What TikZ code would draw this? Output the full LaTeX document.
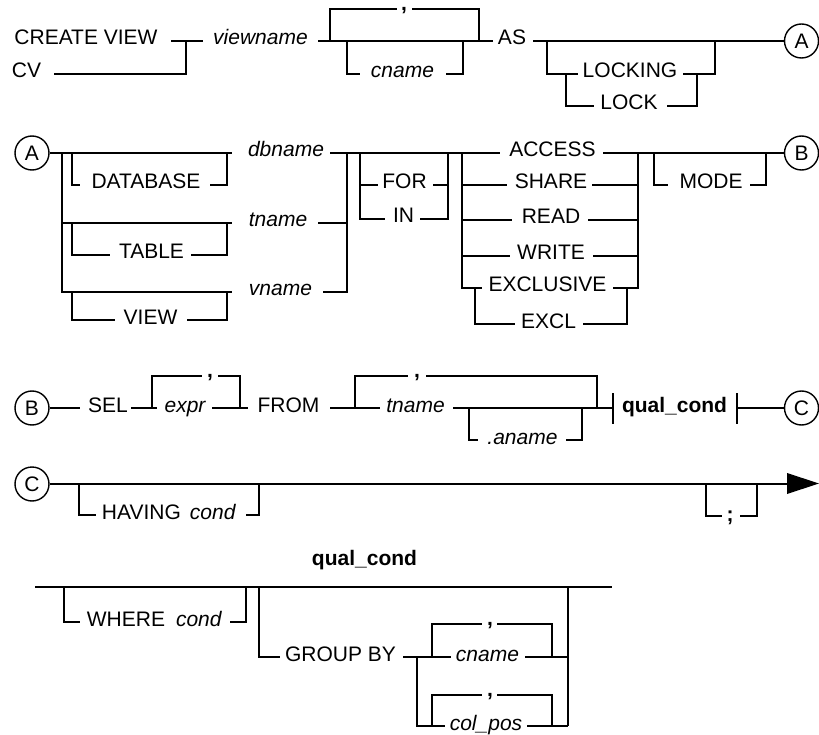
\documentclass[tikz,border=0pt]{standalone}
\usepackage{fontspec}
\setmainfont{Liberation Sans}
\newcommand{\rrsize}{\fontsize{21}{25}\selectfont}
\begin{document}
\begin{tikzpicture}[x=1pt,y=-1pt,line width=1.4pt,
  t/.style={anchor=base,inner sep=0pt,font=\rrsize},
  v/.style={anchor=base,inner sep=0pt,font=\rrsize\itshape},
  b/.style={anchor=base,inner sep=0pt,font=\rrsize\bfseries},
  conn/.style={draw,circle,minimum size=34pt,inner sep=0pt,font=\rrsize}]
\useasboundingbox (0,0) rectangle (819,735);

% ---------------- Row 1 ----------------
\node[t] (cv1) at (86,45) {CREATE VIEW};
\node[t] (cv2) at (26.5,78) {CV};
\draw (171,41) -- (203,41);
\draw (54,74) -| (186,41);
\node[v] (vn) at (260.5,45) {viewname};
\draw (318,41) -- (493,41);
\draw (330,41) |- (397,9);
\node[b] (cm1) at (404,11) {,};
\draw (412,9) -| (479,41);
\draw (347,41) |- (360,74);
\node[v] (cn1) at (402.5,78) {cname};
\draw (446,74) -| (463,41);
\node[t] (as) at (512,45) {AS};
\node[conn] (ca1) at (801.5,41) {A};
\draw (533,41) -- (ca1.west);
\draw (547,41) |- (578,74);
\node[t] (lk1) at (630,78) {LOCKING};
\draw (683,74) -| (715,41);
\draw (566,74) |- (594,106);
\node[t] (lk2) at (629,110) {LOCK};
\draw (667,106) -| (697,74);

% ---------------- Row 2 ----------------
\node[conn] (ca2) at (32,153) {A};
\draw (ca2.east) -- (232,153);
\node[v] (db) at (286,157) {dbname};
\draw (330,153) -- (500,153);
\draw (62,153) |- (232,292);
\draw (62,223) -- (232,223);
\draw (72,153) |- (80,185);
\node[t] (dbk) at (146,189) {DATABASE};
\draw (210,185) -| (227,153);
\node[v] (tn1) at (278,227) {tname};
\draw (318,223) -- (347,223);
\node[v] (vw) at (280.5,296) {vname};
\draw (323,292) -| (347,153);
\draw (72,223) |- (110,255);
\node[t] (tb) at (151.5,259) {TABLE};
\draw (191,255) -| (227,223);
\draw (72,292) |- (115,320);
\node[t] (vk) at (150.5,324) {VIEW};
\draw (187,320) -| (227,292);
\draw (360,153) |- (378,185);
\node[t] (for) at (404.5,189) {FOR};
\draw (433,185) -| (448,153);
\draw (360,185) |- (385,219);
\node[t] (in) at (403.5,223) {IN};
\draw (420,219) -| (448,185);
\draw (462,153) |- (482,288);
\draw (462,185) -- (507,185);
\draw (462,220) -- (512,220);
\draw (462,256) -- (510,256);
\node[t] (acc) at (552.5,157) {ACCESS};
\node[t] (shr) at (551,189) {SHARE};
\node[t] (rd) at (551,224) {READ};
\node[t] (wr) at (551,260) {WRITE};
\node[t] (exc) at (547.5,292) {EXCLUSIVE};
\node[t] (ex) at (548.5,328) {EXCL};
\node[conn] (cb1) at (801.5,153) {B};
\draw (603,153) -- (cb1.west);
\draw (592,185) -- (638,185);
\draw (588,220) -- (638,220);
\draw (593,256) -- (638,256);
\draw (613,288) -| (638,153);
\draw (475,288) |- (515,324);
\draw (583,324) -| (627,288);
\draw (654,153) |- (668,185);
\node[t] (md) at (711,189) {MODE};
\draw (750,185) -| (766,153);

% ---------------- Row 3 ----------------
\node[conn] (cb2) at (32,408) {B};
\draw (cb2.east) -- (80,408);
\node[t] (sel) at (108,412) {SEL};
\draw (131,408) -- (157,408);
\node[v] (ex1) at (185,412) {expr};
\draw (212,408) -- (248,408);
\node[t] (frm) at (288.5,412) {FROM};
\draw (330,408) -- (380,408);
\node[v] (tn2) at (415.5,412) {tname};
\draw (453,408) -- (613,408);
\draw (152,408) |- (202,376);
\node[b] (cm2) at (210,377) {,};
\draw (218,376) -| (240,408);
\draw (355,408) |- (408,376);
\node[b] (cm3) at (417,377) {,};
\draw (426,376) -| (597,408);
\draw (469,408) |- (478,440);
\node[v] (an) at (522.5,444) {.aname};
\draw (566,440) -| (582,408);
\draw (613,393) -- (613,424);
\node[b] (qc1) at (674.5,412) {qual\_cond};
\draw (737,393) -- (737,424);
\node[conn] (cc1) at (801.5,408) {C};
\draw (737,408) -- (cc1.west);

% ---------------- Row 4 ----------------
\node[conn] (cc2) at (32,484) {C};
\draw (cc2.east) -- (789,484);
\fill (787,473) -- (819,483.5) -- (787,494) -- cycle;
\draw (79,484) |- (96,515);
\node[t] (hv) at (169,519) {HAVING\hspace{9pt}\textit{cond}};
\draw (246,515) -| (259,484);
\draw (706,484) |- (722,516);
\node[b] (sc) at (730,521) {;};
\draw (740,516) -| (757,484);

% ---------------- qual_cond ----------------
\node[b] (qc2) at (364.5,565) {qual\_cond};
\draw (35,587) -- (612,587);
\draw (64,587) |- (80,622);
\node[t] (wh) at (154.5,626) {WHERE\hspace{11pt}\textit{cond}};
\draw (230,622) -| (246,587);
\draw (259,587) |- (280,657);
\node[t] (gb) at (340.5,661) {GROUP BY};
\draw (403,657) -- (451,657);
\node[v] (cn2) at (487.5,661) {cname};
\draw (525,657) -- (568,657);
\draw (432,657) |- (482,624);
\node[b] (cm4) at (490,625) {,};
\draw (497,624) -| (552,657);
\draw (417,657) |- (445,726);
\node[v] (cp) at (486,730) {col\_pos};
\draw (527,726) -- (568,726);
\draw (432,726) |- (482,695);
\node[b] (cm5) at (490,696) {,};
\draw (497,695) -| (552,726);
\draw (568,587) -- (568,726);
\end{tikzpicture}
\end{document}
